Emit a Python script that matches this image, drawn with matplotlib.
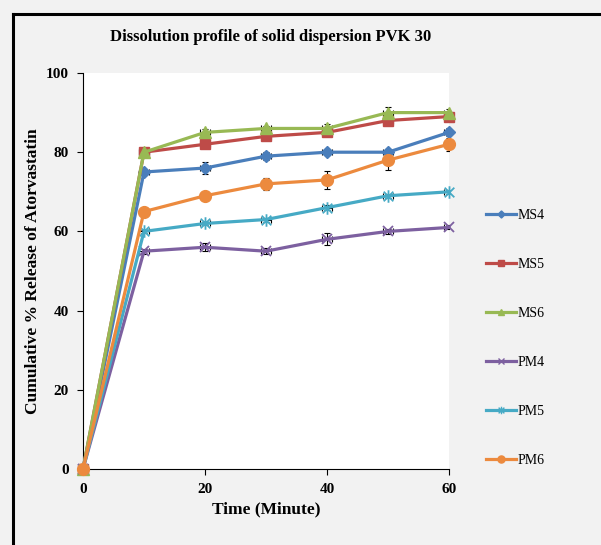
import matplotlib
matplotlib.use("Agg")
import matplotlib.pyplot as plt
from matplotlib.lines import Line2D
from matplotlib.path import Path

plt.rcParams['font.family'] = ['Liberation Serif', 'DejaVu Serif']

time_min = [0, 10, 20, 30, 40, 50, 60]

ms4 = [0, 75, 76, 79, 80, 80, 85]
ms5 = [0, 80, 82, 84, 85, 88, 89]
ms6 = [0, 80, 85, 86, 86, 90, 90]
pm4 = [0, 55, 56, 55, 58, 60, 61]
pm5 = [0, 60, 62, 63, 66, 69, 70]
pm6 = [0, 65, 69, 72, 73, 78, 82]

ms4_err = [0, 0.8, 1.5, 1.0, 0.6, 0.8, 1.0]
ms5_err = [0, 0.5, 0.6, 0.5, 0.6, 0.6, 0.5]
ms6_err = [0, 0.5, 0.8, 0.6, 1.0, 1.4, 0.8]
pm4_err = [0, 0.6, 1.0, 0.8, 1.5, 0.6, 0.5]
pm5_err = [0, 0.4, 0.5, 0.5, 0.6, 0.5, 0.5]
pm6_err = [0, 0.6, 0.8, 1.6, 2.3, 2.5, 1.7]
time_err = [0, 0.8, 0.8, 0.8, 0.8, 0.8, 0.8]

labels = ['MS4', 'MS5', 'MS6', 'PM4', 'PM5', 'PM6']
colors = ['#4A7EBB', '#BE4B48', '#98B954', '#7D60A0', '#46AAC5', '#EC8A3E']

# excel style "star": x with a vertical stroke
star = Path([(-1, -1), (1, 1), (-1, 1), (1, -1), (0, -1.3), (0, 1.3)],
            [Path.MOVETO, Path.LINETO, Path.MOVETO, Path.LINETO, Path.MOVETO, Path.LINETO])

markers = ['D', 's', '^', 'x', star, 'o']
msizes = [6, 7.5, 8, 7, 9, 8.5]

fig = plt.figure(figsize=(6.01, 5.45), dpi=100, facecolor='#f2f2f2')
ax = fig.add_axes([83 / 601, 1 - 469 / 545, 366 / 601, 396 / 545])
ax.set_facecolor('white')

series = [ms4, ms5, ms6, pm4, pm5, pm6]
errs = [ms4_err, ms5_err, ms6_err, pm4_err, pm5_err, pm6_err]
handles = []
for vals, err, lab, col, mk, ms in zip(series, errs, labels, colors, markers, msizes):
    ax.errorbar(time_min, vals, yerr=err, xerr=time_err, fmt='none', ecolor='black',
                elinewidth=0.8, capsize=2.5, capthick=0.8, zorder=2)
    ax.plot(time_min, vals, color=col, lw=2.3, marker=mk, markersize=ms,
            markerfacecolor=col, markeredgecolor=col,
            markeredgewidth=1.3 if (mk == 'x' or mk is star) else 1,
            zorder=3, clip_on=False)
    handles.append(Line2D([], [], color=col, lw=2.3, marker=mk, markersize=ms * 0.6,
                          markerfacecolor=col, markeredgecolor=col, label=lab))

ax.set_xlim(0, 60)
ax.set_ylim(0, 100)
ax.set_xticks([0, 20, 40, 60])
ax.set_yticks([0, 20, 40, 60, 80, 100])
ax.tick_params(axis='both', direction='out', length=4, width=0.8, labelsize=11, pad=6)
for t in ax.get_xticklabels() + ax.get_yticklabels():
    t.set_fontweight('bold')
ax.spines['top'].set_visible(False)
ax.spines['right'].set_visible(False)

ax.set_xlabel('Time (Minute)', fontsize=12.5, fontweight='bold', labelpad=4)
ax.set_ylabel('Cumulative % Release of Atorvastatin', fontsize=12.5, fontweight='bold', labelpad=4)

fig.text(271 / 601, 1 - 37 / 545, 'Dissolution profile of solid dispersion PVK 30',
         ha='center', va='center', fontsize=12, fontweight='bold')

fig.legend(handles=handles, loc='upper left', bbox_to_anchor=(480 / 601, 1 - 203 / 545),
           frameon=False, fontsize=10, labelspacing=2.6, handlelength=2.2,
           handletextpad=0.1, borderaxespad=0)

# outer chart frame
fig.add_artist(Line2D([12.5 / 601, 12.5 / 601], [0, 1 - 13.5 / 545], color='black', lw=2.2,
                      transform=fig.transFigure))
fig.add_artist(Line2D([12.5 / 601, 1], [1 - 13.5 / 545, 1 - 13.5 / 545], color='black', lw=2.2,
                      transform=fig.transFigure))

fig.savefig('out.png', dpi=100, facecolor=fig.get_facecolor())
